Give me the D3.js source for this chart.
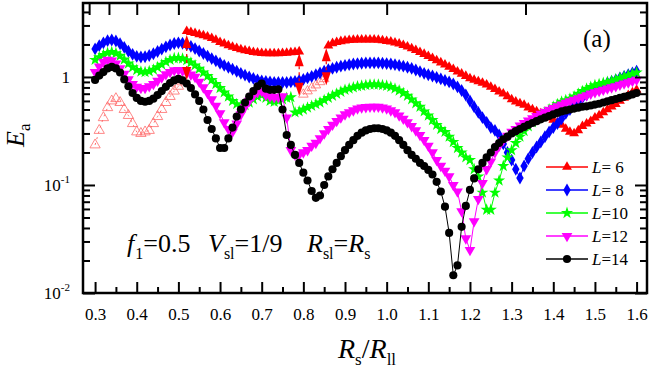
<!DOCTYPE html>
<html>
<head>
<meta charset="utf-8">
<script src="https://cdn.jsdelivr.net/npm/d3@7"></script>
<style>
  html, body { margin: 0; padding: 0; background: #fff; }
  svg { display: block; font-family: "Liberation Serif", "Times New Roman", serif; }
  text { white-space: pre; }
</style>
</head>
<body>
<div id="chart"></div>
<script>
// grid of R_s/R_ll samples
const rStart = 0.30;
const rStep = 0.01;

// L = 6 (red), split in branches
const l6OpenA = [0.235,0.32,0.42,0.52,0.6,0.63,0.58,0.5,0.44,0.37,0.31,0.3,0.31,0.32,0.37,0.43,0.5,0.58,0.66,0.74,0.82,0.9]; // from 0.30
const l6FillA = [2.65,2.6,2.54,2.48,2.42,2.36,2.29,2.2,2.1,2.03,1.96,1.9,1.85,1.8,1.76,1.73,1.7,1.68,1.66,1.65,1.65,1.65,1.65,1.66,1.67,1.69,1.7,1.72]; // from 0.52
const l6OpenB = [0.69,0.74,0.79,0.84,0.9,0.96]; // from 0.80
const l6FillB = [1.95,2.05,2.1,2.14,2.17,2.19,2.2,2.21,2.22,2.22,
  2.22,2.21,2.2,2.18,2.15,2.12,2.08,2.03,1.97,1.91,
  1.84,1.77,1.7,1.63,1.56,1.49,1.42,1.36,1.3,1.24,
  1.18,1.12,1.07,1.02,0.97,0.94,0.91,0.88,0.85,0.81,
  0.77,0.73,0.7,0.66,0.62,0.59,0.57,0.55,0.52,0.5,
  0.48,0.46,0.44,0.42,0.4,0.38,0.36,0.33,0.31,0.3,
  0.32,0.35,0.37,0.39,0.42,0.44,0.47,0.5,0.53,0.56,
  0.6,0.64,0.68,0.72,0.76]; // from 0.86

// jumps of the L = 6 branch
const jumpR = [0.52, 0.79, 0.855];
const jumpTop = [2.45, 1.66, 1.84];
const jumpBottom = [0.94, 0.67, 0.84];

const l8 = [1.82,1.95,2.07,2.17,2.2,2.15,2.03,1.88,1.73,1.62,
  1.55,1.53,1.54,1.58,1.64,1.72,1.81,1.9,1.98,2.04,
  2.07,2.05,2.0,1.92,1.83,1.74,1.65,1.56,1.48,1.41,
  1.34,1.28,1.23,1.18,1.13,1.08,1.04,1.0,0.97,0.94,
  0.92,0.91,0.9,0.89,0.89,0.89,0.89,0.9,0.91,0.93,
  0.95,0.98,1.01,1.05,1.09,1.13,1.17,1.2,1.23,1.26,
  1.28,1.3,1.32,1.33,1.34,1.35,1.35,1.35,1.35,1.34,
  1.33,1.32,1.3,1.28,1.26,1.23,1.2,1.16,1.12,1.08,
  1.05,1.02,0.99,0.96,0.93,0.9,0.86,0.81,0.75,0.68,
  0.6,0.53,0.47,0.42,0.38,0.34,0.32,0.29,0.24,0.2,
  0.17,0.14,0.116,0.15,0.175,0.2,0.225,0.25,0.28,0.31,
  0.34,0.37,0.41,0.46,0.5,0.55,0.6,0.64,0.68,0.72,
  0.76,0.8,0.84,0.88,0.91,0.94,0.98,1.01,1.05,1.09,1.13];

const l10 = [1.44,1.52,1.6,1.67,1.7,1.66,1.57,1.45,1.33,1.23,
  1.16,1.12,1.11,1.13,1.17,1.23,1.3,1.38,1.44,1.49,
  1.5,1.48,1.43,1.36,1.28,1.19,1.1,1.02,0.94,0.86,
  0.79,0.72,0.66,0.6,0.56,0.54,0.55,0.58,0.62,0.66,
  0.68,0.64,0.6,0.59,0.6,0.62,0.64,0.65,0.47,0.48,
  0.5,0.52,0.54,0.56,0.58,0.61,0.64,0.67,0.7,0.73,
  0.76,0.78,0.8,0.82,0.83,0.84,0.85,0.85,0.85,0.84,
  0.83,0.81,0.78,0.75,0.71,0.67,0.62,0.57,0.53,0.48,
  0.44,0.4,0.36,0.33,0.31,0.28,0.25,0.22,0.2,0.18,
  0.17,0.14,0.12,0.085,0.059,0.059,0.085,0.11,0.15,0.18,
  0.21,0.245,0.28,0.315,0.35,0.38,0.41,0.44,0.47,0.5,
  0.53,0.56,0.59,0.61,0.63,0.66,0.7,0.74,0.78,0.81,
  0.84,0.86,0.88,0.9,0.92,0.95,0.98,1.01,1.04,1.07,1.1];

const l12 = [1.11,1.25,1.38,1.44,1.42,1.33,1.2,1.07,0.95,0.86,
  0.81,0.79,0.79,0.82,0.86,0.92,0.99,1.06,1.11,1.15,
  1.16,1.14,1.1,1.05,1.0,0.9,0.8,0.71,0.62,0.54,
  0.46,0.38,0.33,0.31,0.37,0.45,0.53,0.6,0.67,0.72,
  0.74,0.68,0.66,0.65,0.65,0.66,0.42,0.21,0.19,0.19,
  0.2,0.21,0.23,0.245,0.27,0.3,0.33,0.36,0.39,0.42,
  0.45,0.47,0.49,0.51,0.52,0.525,0.53,0.53,0.53,0.52,
  0.51,0.49,0.47,0.44,0.41,0.38,0.35,0.32,0.29,0.26,
  0.23,0.2,0.17,0.15,0.135,0.12,0.1,0.087,0.057,0.032,
  0.025,0.046,0.074,0.104,0.14,0.165,0.2,0.23,0.26,0.285,
  0.31,0.33,0.355,0.375,0.395,0.415,0.435,0.455,0.475,0.495,
  0.515,0.535,0.555,0.575,0.595,0.615,0.635,0.655,0.675,0.7,
  0.72,0.74,0.76,0.78,0.8,0.82,0.845,0.87,0.89,0.915,0.94];

const l14 = [0.94,1.03,1.11,1.2,1.24,1.2,1.1,0.95,0.82,0.71,
  0.64,0.6,0.59,0.6,0.63,0.68,0.74,0.81,0.88,0.93,
  0.96,0.93,0.87,0.79,0.69,0.6,0.5,0.4,0.33,0.27,
  0.22,0.22,0.27,0.34,0.43,0.5,0.58,0.66,0.74,0.82,
  0.87,0.78,0.76,0.76,0.77,0.5,0.29,0.235,0.19,0.16,
  0.13,0.11,0.088,0.076,0.08,0.1,0.12,0.14,0.16,0.185,
  0.21,0.235,0.26,0.285,0.305,0.32,0.33,0.335,0.335,0.33,
  0.32,0.305,0.285,0.26,0.235,0.21,0.19,0.175,0.16,0.15,
  0.138,0.125,0.107,0.087,0.063,0.036,0.0146,0.018,0.041,0.064,
  0.09,0.115,0.14,0.16,0.18,0.2,0.225,0.245,0.265,0.28,
  0.3,0.315,0.33,0.345,0.36,0.375,0.39,0.405,0.42,0.435,
  0.45,0.465,0.48,0.49,0.5,0.51,0.52,0.53,0.535,0.545,
  0.555,0.565,0.58,0.595,0.61,0.625,0.64,0.655,0.67,0.69,0.71];

const legendLabels = ["6", "8", "10", "12", "14"];
const xTicks = [0.3,0.4,0.5,0.6,0.7,0.8,0.9,1.0,1.1,1.2,1.3,1.4,1.5,1.6];
const xMinorTicks = [0.35,0.45,0.55,0.65,0.75,0.85,0.95,1.05,1.15,1.25,1.35,1.45,1.55];
const yTicks = [0.01, 0.1, 1];
const yTickExp = ["-2", "-1", ""];
const topTicks = [3.5, 3, 2.5, 2, 1.5, 1.25, 1, 0.75]; // drawn at 1/t

const width = 651;
const height = 374;

const svg = d3.select("#chart")
  .append("svg")
  .attr("width", width)
  .attr("height", height);

svg.append("rect").attr("width", width).attr("height", height).attr("fill", "#fff");

const x = d3.scaleLinear().domain([0.271, 1.625]).range([83, 647]);
const y = d3.scaleLog().domain([0.01, 4.84]).range([293, 3]);

const toPoints = (start, vals) => vals.map((e, i) => ({ r: +(start + i * rStep).toFixed(3), e }));

const line = d3.line().x(d => x(d.r)).y(d => y(d.e));

svg.append("clipPath").attr("id", "plotclip")
  .append("rect").attr("x", 83).attr("y", 3).attr("width", 564).attr("height", 290);

const plot = svg.append("g").attr("clip-path", "url(#plotclip)");

const triUp = d3.symbol().type(d3.symbolTriangle).size(42);
const triDown = d3.symbol().type(d3.symbolTriangle).size(50);
const diamond = d3.symbol().type(d3.symbolDiamond).size(48);
const star = d3.symbol().type(d3.symbolStar).size(46);
const circle = d3.symbol().type(d3.symbolCircle).size(52);

function drawSeries(data, color, path, rot, opts = {}) {
  plot.append("path")
    .datum(data)
    .attr("fill", "none")
    .attr("stroke", color)
    .attr("stroke-width", 1)
    .attr("stroke-dasharray", opts.dash || null)
    .attr("d", line);
  plot.append("g")
    .selectAll("path")
    .data(data)
    .enter()
    .append("path")
    .attr("d", path)
    .attr("transform", d => `translate(${x(d.r)},${y(d.e)}) rotate(${rot})`)
    .attr("fill", opts.hollow ? "none" : color)
    .attr("stroke", opts.hollow ? color : "none")
    .attr("stroke-width", opts.hollow ? 0.8 : 0);
}

// L = 6
const openColor = "#ff6a6a";
drawSeries(toPoints(0.30, l6OpenA), openColor, d3.symbol().type(d3.symbolTriangle).size(46), 0, { hollow: true, dash: "2,4" });
drawSeries(toPoints(0.80, l6OpenB), openColor, d3.symbol().type(d3.symbolTriangle).size(40), 0, { hollow: true, dash: "2,4" });
drawSeries(toPoints(0.52, l6FillA), "#ff0000", triUp, 0);
drawSeries(toPoints(0.86, l6FillB), "#ff0000", triUp, 0);

drawSeries(toPoints(rStart, l8), "#0000ff", diamond, 0);
drawSeries(toPoints(rStart, l10), "#00ff00", star, 0);
drawSeries(toPoints(rStart, l12), "#ff00ff", triDown, 180);
drawSeries(toPoints(rStart, l14), "#000000", circle, 0);

// jump arrows of L = 6, on top
const arrowH = 13, arrowW = 4.5;
jumpR.forEach((r, i) => {
  const cx = x(r), yt = y(jumpTop[i]), yb = y(jumpBottom[i]);
  plot.append("line")
    .attr("x1", cx).attr("x2", cx)
    .attr("y1", yt + arrowH).attr("y2", yb - arrowH)
    .attr("stroke", "#ff0000").attr("stroke-width", 1.2)
    .attr("stroke-dasharray", "3,3");
  plot.append("path")
    .attr("d", `M${cx},${yt} L${cx + arrowW},${yt + arrowH} L${cx - arrowW},${yt + arrowH} Z`)
    .attr("fill", "#ff0000");
  plot.append("path")
    .attr("d", `M${cx},${yb} L${cx + arrowW},${yb - arrowH} L${cx - arrowW},${yb - arrowH} Z`)
    .attr("fill", "#ff0000");
});

// axes, ticks inward
const tickStyle = g => {
  g.select(".domain").remove();
  g.selectAll(".tick line").attr("stroke", "#000").attr("stroke-width", 2);
  g.selectAll("text").attr("fill", "#000");
};

svg.append("g")
  .attr("transform", "translate(0,293)")
  .call(d3.axisBottom(x).tickValues(xTicks).tickSize(-11).tickPadding(15).tickFormat(d3.format(".1f")))
  .call(tickStyle)
  .call(g => g.selectAll("text").attr("font-size", 17).attr("font-family", "Liberation Serif"));

svg.append("g")
  .attr("transform", "translate(0,293)")
  .call(d3.axisBottom(x).tickValues(xMinorTicks).tickSize(-6).tickFormat(""))
  .call(tickStyle);

svg.append("g")
  .attr("transform", "translate(0,3)")
  .call(d3.axisTop(x).tickValues(topTicks.map(t => 1 / t)).tickSize(-12).tickFormat(""))
  .call(tickStyle);

const yMinor = [];
[0.01, 0.1, 1].forEach(b => [2,3,4,5,6,7,8,9].forEach(m => { if (b * m < 4.84) yMinor.push(b * m); }));

[[83, d3.axisLeft], [647, d3.axisRight]].forEach(([px, ax]) => {
  svg.append("g")
    .attr("transform", `translate(${px},0)`)
    .call(ax(y).tickValues(yTicks).tickSize(-12).tickFormat(""))
    .call(tickStyle);
  svg.append("g")
    .attr("transform", `translate(${px},0)`)
    .call(ax(y).tickValues(yMinor).tickSize(-7).tickFormat(""))
    .call(tickStyle);
});

// y tick labels with exponents
yTicks.forEach((v, i) => {
  const t = svg.append("text")
    .attr("x", 70)
    .attr("y", y(v) + 6)
    .attr("text-anchor", "end")
    .attr("font-size", 17);
  if (yTickExp[i]) {
    t.append("tspan").text("10");
    t.append("tspan").attr("font-size", 11).attr("dy", -8).text(yTickExp[i]);
  } else {
    t.text("1");
  }
});

// frame
svg.append("rect")
  .attr("x", 83).attr("y", 3).attr("width", 564).attr("height", 290)
  .attr("fill", "none").attr("stroke", "#000").attr("stroke-width", 2.5);

// axis titles
const xt = svg.append("text").attr("x", 338).attr("y", 358).attr("font-size", 28);
xt.append("tspan").attr("font-style", "italic").text("R");
xt.append("tspan").attr("font-size", 17).attr("dy", 7).text("s");
xt.append("tspan").attr("dy", -7).text("/");
xt.append("tspan").attr("font-style", "italic").text("R");
xt.append("tspan").attr("font-size", 17).attr("dy", 7).text("ll");

const yt = svg.append("text").attr("transform", "translate(24,147) rotate(-90)").attr("font-size", 26);
yt.append("tspan").attr("font-style", "italic").text("E");
yt.append("tspan").attr("font-size", 17).attr("dy", 6).text("a");

// panel label
svg.append("text").attr("x", 583).attr("y", 47).attr("font-size", 25).text("(a)");

// parameters
const ann = svg.append("text").attr("y", 252).attr("font-size", 26);
ann.append("tspan").attr("x", 127).attr("font-style", "italic").text("f");
ann.append("tspan").attr("font-size", 16).attr("dy", 7).attr("dx", 1).text("1");
ann.append("tspan").attr("dy", -7).text("=0.5");
ann.append("tspan").attr("x", 208).attr("font-style", "italic").text("V");
ann.append("tspan").attr("font-size", 16).attr("dy", 7).text("sl");
ann.append("tspan").attr("dy", -7).text("=1/9");
ann.append("tspan").attr("x", 307).attr("font-style", "italic").text("R");
ann.append("tspan").attr("font-size", 16).attr("dy", 7).text("sl");
ann.append("tspan").attr("dy", -7).text("=");
ann.append("tspan").attr("font-style", "italic").text("R");
ann.append("tspan").attr("font-size", 16).attr("dy", 7).text("s");

// legend
const legendColors = ["#ff0000", "#0000ff", "#00ff00", "#ff00ff", "#000000"];
const legendSymbols = [triUp, diamond, star, triDown, circle];
const legendRot = [0, 0, 0, 180, 0];
const legend = svg.append("g");
legendLabels.forEach((lab, i) => {
  const ly = 167 + i * 23;
  legend.append("line")
    .attr("x1", 546).attr("x2", 588).attr("y1", ly).attr("y2", ly)
    .attr("stroke", legendColors[i]).attr("stroke-width", 1.5);
  legend.append("path")
    .attr("d", legendSymbols[i])
    .attr("transform", `translate(567,${ly}) rotate(${legendRot[i]})`)
    .attr("fill", legendColors[i]);
  const t = legend.append("text").attr("x", 592).attr("y", ly + 6).attr("font-size", 17);
  t.append("tspan").attr("font-style", "italic").text("L");
  t.append("tspan").text(lab.length === 1 ? "= " + lab : "=" + lab);
});
</script>
</body>
</html>
